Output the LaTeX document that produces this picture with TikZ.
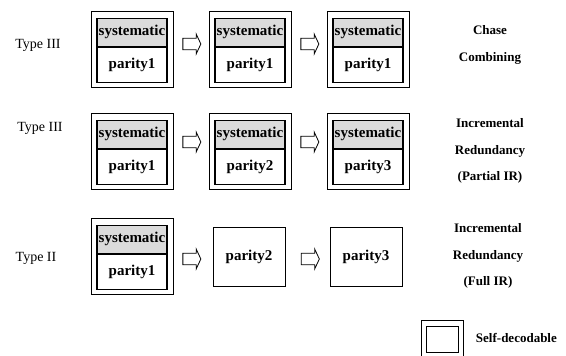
\documentclass[tikz,border=0pt]{standalone}
\usepackage{fontspec}
\setmainfont{Liberation Serif}
\usetikzlibrary{positioning,shapes.arrows}

\begin{document}
\begin{tikzpicture}[
    x=1pt, y=-1pt,
    node distance=9pt,
    packet/.style={
        draw,
        line width=0.9pt,
        minimum width=82pt,
        minimum height=76pt
    },
    sysband/.style={
        draw,
        line width=1.6pt,
        fill=black!14,
        minimum width=70pt,
        minimum height=28pt,
        inner sep=0pt,
        font=\fontsize{15}{17}\selectfont\bfseries
    },
    parband/.style={
        draw,
        line width=1.1pt,
        minimum width=70pt,
        minimum height=35pt,
        inner sep=0pt,
        font=\fontsize{15}{17}\selectfont\bfseries
    },
    lonepar/.style={
        draw,
        line width=0.9pt,
        minimum width=72pt,
        minimum height=59pt,
        font=\fontsize{15}{17}\selectfont\bfseries
    },
    blockarrow/.style={
        single arrow,
        draw,
        line width=0.8pt,
        inner sep=5pt,
        minimum height=18pt,
        minimum width=20pt,
        single arrow head extend=4pt,
        single arrow tip angle=130
    },
    rowlabel/.style={font=\fontsize{14}{16}\selectfont},
    scheme/.style={align=center, font=\fontsize{13}{26.5}\selectfont\bfseries}
]
\useasboundingbox (0,0) rectangle (566,356);

% row 1: chase combining
\node[rowlabel] (lab1) at (38,45) {Type III};
\node[packet] (cc1) at (132,49) {};
\node[sysband, below=7pt of cc1.north] (cc1s) {systematic};
\node[parband, below=0pt of cc1s] (cc1p) {parity1};
\node[blockarrow, right=of cc1, yshift=5pt] (cca1) {};
\node[packet] (cc2) at (250,49) {};
\node[sysband, below=7pt of cc2.north] (cc2s) {systematic};
\node[parband, below=0pt of cc2s] (cc2p) {parity1};
\node[blockarrow, right=of cc2, yshift=5pt] (cca2) {};
\node[packet] (cc3) at (368,49) {};
\node[sysband, below=7pt of cc3.north] (cc3s) {systematic};
\node[parband, below=0pt of cc3s] (cc3p) {parity1};
\node[scheme] (ccname) at (490,45) {Chase\\Combining};

% row 2: partial IR
\node[rowlabel] (lab2) at (40,128) {Type III};
\node[packet] (pir1) at (132,151) {};
\node[sysband, below=7pt of pir1.north] (pir1s) {systematic};
\node[parband, below=0pt of pir1s] (pir1p) {parity1};
\node[blockarrow, right=of pir1, yshift=9pt] (pira1) {};
\node[packet] (pir2) at (250,151) {};
\node[sysband, below=7pt of pir2.north] (pir2s) {systematic};
\node[parband, below=0pt of pir2s] (pir2p) {parity2};
\node[blockarrow, right=of pir2, yshift=9pt] (pira2) {};
\node[packet] (pir3) at (368,151) {};
\node[sysband, below=7pt of pir3.north] (pir3s) {systematic};
\node[parband, below=0pt of pir3s] (pir3p) {parity3};
\node[scheme] (pirname) at (490,151) {Incremental\\Redundancy\\(Partial IR)};

% row 3: full IR
\node[rowlabel] (lab3) at (36,258) {Type II};
\node[packet] (fir1) at (132,256) {};
\node[sysband, below=7pt of fir1.north] (fir1s) {systematic};
\node[parband, below=0pt of fir1s] (fir1p) {parity1};
\node[blockarrow, right=of fir1, yshift=-3pt] (fira1) {};
\node[lonepar] (fir2) at (249,257) {parity2};
\node[blockarrow] (fira2) at (309,259) {};
\node[lonepar] (fir3) at (366,257) {parity3};
\node[scheme] (firname) at (488,256) {Incremental\\Redundancy\\(Full IR)};

% legend
\node[packet, minimum width=42pt, minimum height=38pt] (key) at (442,339) {};
\node[draw, line width=0.9pt, minimum width=32pt, minimum height=26pt] (keyin) at (key) {};
\node[scheme, right=of key, yshift=1pt] (keytext) {Self-decodable};

\end{tikzpicture}
\end{document}
